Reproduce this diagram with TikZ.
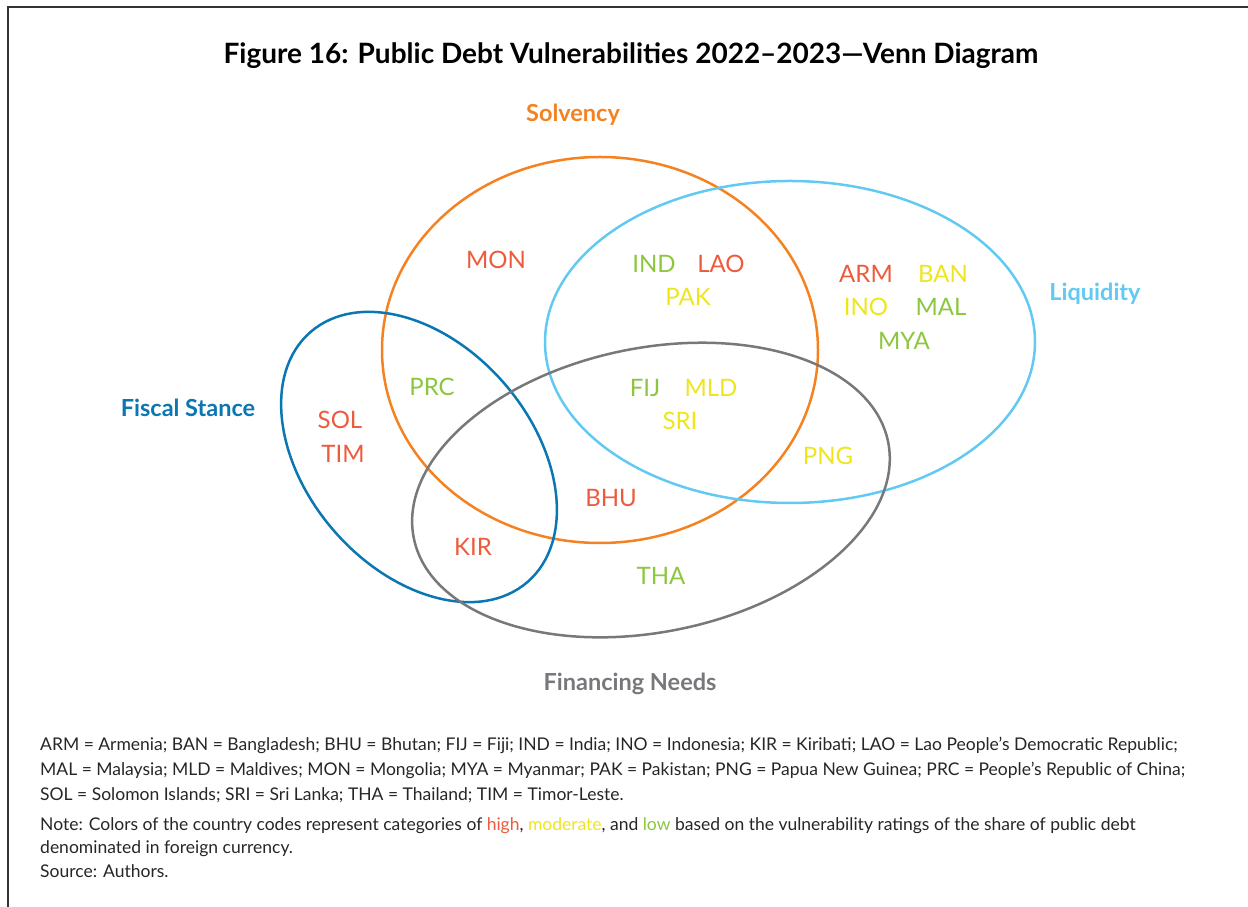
\documentclass[tikz,border=0pt]{standalone}
\usepackage{fontspec}
\setmainfont{Lato}
\definecolor{solv}{HTML}{F58220}
\definecolor{liq}{HTML}{62CAF2}
\definecolor{fisc}{HTML}{0A77B3}
\definecolor{fin}{HTML}{77787B}
\definecolor{hi}{HTML}{EE5A3C}
\definecolor{mod}{HTML}{EEE51C}
\definecolor{lo}{HTML}{8CC63F}
\definecolor{framegray}{HTML}{333333}

\begin{document}
\begin{tikzpicture}[x=1pt,y=1pt,
    set line/.style={line width=2.5pt},
    set label/.style={anchor=base,font=\fontsize{23.5}{26}\selectfont\bfseries},
    country/.style={font=\fontsize{24}{26}\selectfont},
    high/.style={country,text=hi},
    moderate/.style={country,text=mod},
    low/.style={country,text=lo},
    note line/.style={anchor=base west,inner sep=0pt,text=black!85,
      font=\fontsize{17.5}{20}\selectfont}]
\useasboundingbox (0,0) rectangle (1248,907);
\draw[framegray,line width=2pt] (7.5,0) -- (7.5,899.5) -- (1248,899.5);

% title
\node[anchor=base,font=\fontsize{28}{32}\selectfont\bfseries] (title) at (631,843)
  {Figure 16: Public Debt Vulnerabilities 2022--2023---Venn Diagram};

% the four sets
\coordinate (solv c) at (600,557);
\coordinate (liq c) at (790,565);
\coordinate (fisc c) at (419,450);
\coordinate (fin c) at (651,417);
\draw[set line,solv] (solv c) ellipse [x radius=218,y radius=193];
\draw[set line,liq] (liq c) ellipse [x radius=245,y radius=161];
\draw[set line,fisc,rotate around={-49:(fisc c)}] (fisc c) ellipse [x radius=165.5,y radius=112.6];
\draw[set line,fin,rotate around={11.5:(fin c)}] (fin c) ellipse [x radius=242,y radius=142];

\node[set label,text=solv] (solvency) at (573,785) {Solvency};
\node[set label,text=liq] (liquidity) at (1095,606) {Liquidity};
\node[set label,text=fisc] (fiscal) at (188,490) {Fiscal Stance};
\node[set label,text=fin] (financing) at (630,216) {Financing Needs};

% country codes
\node[high] (mon) at (496,647) {MON};
\node[low] (ind) at (654,643) {IND};
\node[high] (lao) at (721,643) {LAO};
\node[moderate] (pak) at (688,610) {PAK};
\node[high] (arm) at (866,633) {ARM};
\node[moderate] (ban) at (943,633) {BAN};
\node[moderate] (ino) at (866,600) {INO};
\node[low] (mal) at (941,600) {MAL};
\node[low] (mya) at (904,566) {MYA};
\node[low] (prc) at (432,520) {PRC};
\node[low] (fij) at (645,519) {FIJ};
\node[moderate] (mld) at (711,519) {MLD};
\node[moderate] (sri) at (680,486) {SRI};
\node[high] (sol) at (340,487) {SOL};
\node[high] (tim) at (343,453) {TIM};
\node[moderate] (png) at (828,451) {PNG};
\node[high] (bhu) at (611,409) {BHU};
\node[high] (kir) at (473,360) {KIR};
\node[low] (tha) at (661,331) {THA};

% notes
\node[note line] (abbr1) at (40,156) {ARM = Armenia; BAN = Bangladesh; BHU = Bhutan; FIJ = Fiji; IND = India; INO = Indonesia; KIR = Kiribati; LAO = Lao People’s Democratic Republic;};
\node[note line] (abbr2) at (40,131) {MAL = Malaysia; MLD = Maldives; MON = Mongolia; MYA = Myanmar; PAK = Pakistan; PNG = Papua New Guinea; PRC = People’s Republic of China;};
\node[note line] (abbr3) at (40,106) {SOL = Solomon Islands; SRI = Sri Lanka; THA = Thailand; TIM = Timor-Leste.};
\node[note line] (note1) at (40,76) {Note: Colors of the country codes represent categories of {\color{hi}high}, {\color{mod}moderate}, and {\color{lo}low} based on the vulnerability ratings of the share of public debt};
\node[note line] (note2) at (40,53) {denominated in foreign currency.};
\node[note line] (source) at (40,29) {Source: Authors.};
\end{tikzpicture}
\end{document}
